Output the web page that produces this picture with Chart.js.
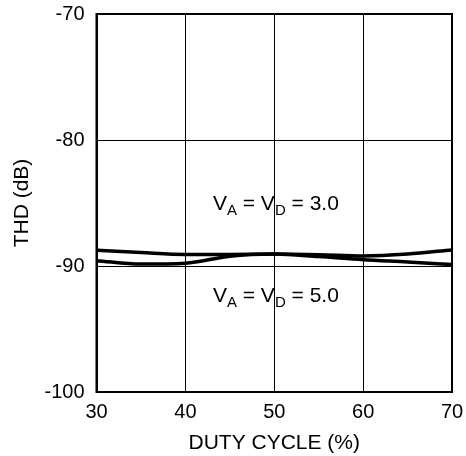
<!DOCTYPE html>
<html>
<head>
<meta charset="utf-8">
<script src="https://cdn.jsdelivr.net/npm/chart.js@4"></script>
<style>
html,body{margin:0;padding:0;background:#fff;}
#wrap{width:466px;height:456px;}
</style>
</head>
<body>
<div id="wrap"><canvas id="c" width="466" height="456"></canvas></div>
<script>
const dutyCycle = [30, 35, 40, 45, 50, 55, 60, 65, 70];
const thdVa30 = [-88.75, -88.93, -89.08, -89.08, -89.05, -89.25, -89.5, -89.68, -89.88];
const thdVa50 = [-89.58, -89.85, -89.78, -89.22, -89.05, -89.1, -89.2, -89.05, -88.72];
const xTicks = [30, 40, 50, 60, 70];
const yTicks = [-100, -90, -80, -70];
const seriesLabels = [
  {main: "3.0", x: 43.1, y: -85.55},
  {main: "5.0", x: 43.1, y: -92.85}
];

const FONT = "'Liberation Sans', Arial, sans-serif";

const labelPlugin = {
  id: 'vlabels',
  afterDraw(chart) {
    const ctx = chart.ctx;
    const xs = chart.scales.x, ys = chart.scales.y;
    ctx.save();
    ctx.fillStyle = '#000';
    ctx.textBaseline = 'alphabetic';
    ctx.textAlign = 'left';
    seriesLabels.forEach(l => {
      let px = xs.getPixelForValue(l.x);
      const py = ys.getPixelForValue(l.y);
      const parts = [
        ['V', false], ['A', true], [' = V', false], ['D', true], [' = ' + l.main, false]
      ];
      parts.forEach(([t, sub]) => {
        ctx.font = (sub ? '15px ' : '21px ') + FONT;
        ctx.fillText(t, px, py + (sub ? 5 : 0));
        px += ctx.measureText(t).width;
      });
    });
    ctx.restore();
  }
};

function pts(ys) { return dutyCycle.map((x, i) => ({x: x, y: ys[i]})); }

new Chart(document.getElementById('c'), {
  type: 'line',
  data: {
    datasets: [
      {label: 'VA = VD = 3.0', data: pts(thdVa30), borderColor: '#000', borderWidth: 3.5, pointRadius: 0, cubicInterpolationMode: 'monotone', fill: false},
      {label: 'VA = VD = 5.0', data: pts(thdVa50), borderColor: '#000', borderWidth: 3.5, pointRadius: 0, cubicInterpolationMode: 'monotone', fill: false}
    ]
  },
  options: {
    responsive: false,
    animation: false,
    devicePixelRatio: 1,
    layout: {padding: {top: 14, right: 14, left: 0, bottom: 0}},
    plugins: {legend: {display: false}, tooltip: {enabled: false}},
    scales: {
      x: {
        type: 'linear', min: 30, max: 70,
        afterBuildTicks(s) { s.ticks = xTicks.map(v => ({value: v})); },
        afterFit(s) { s.height = 64; s.paddingLeft = 0; s.paddingRight = 0; },
        grid: {color: '#000', lineWidth: 1, drawTicks: false},
        border: {color: '#000', width: 2},
        ticks: {color: '#000', font: {family: FONT, size: 20}, padding: 8, maxRotation: 0},
        title: {display: true, text: 'DUTY CYCLE (%)', color: '#000', font: {family: FONT, size: 21}, padding: {top: 3, bottom: 0}}
      },
      y: {
        type: 'linear', min: -100, max: -70,
        afterBuildTicks(s) { s.ticks = yTicks.map(v => ({value: v})); },
        afterFit(s) { s.width = 96.5; s.paddingTop = 0; s.paddingBottom = 0; },
        grid: {color: '#000', lineWidth: 1, drawTicks: false},
        border: {color: '#000', width: 2},
        ticks: {color: '#000', font: {family: FONT, size: 20}, padding: 12},
        title: {display: true, text: 'THD (dB)', color: '#000', font: {family: FONT, size: 21}, padding: {top: 10, bottom: 0}}
      }
    }
  },
  plugins: [labelPlugin, {
    id: 'frame',
    afterDraw(chart) {
      const a = chart.chartArea, ctx = chart.ctx;
      ctx.save();
      ctx.strokeStyle = '#000';
      ctx.lineWidth = 2;
      ctx.strokeRect(a.left, a.top, a.right - a.left, a.bottom - a.top);
      ctx.restore();
    }
  }]
});
</script>
</body>
</html>
